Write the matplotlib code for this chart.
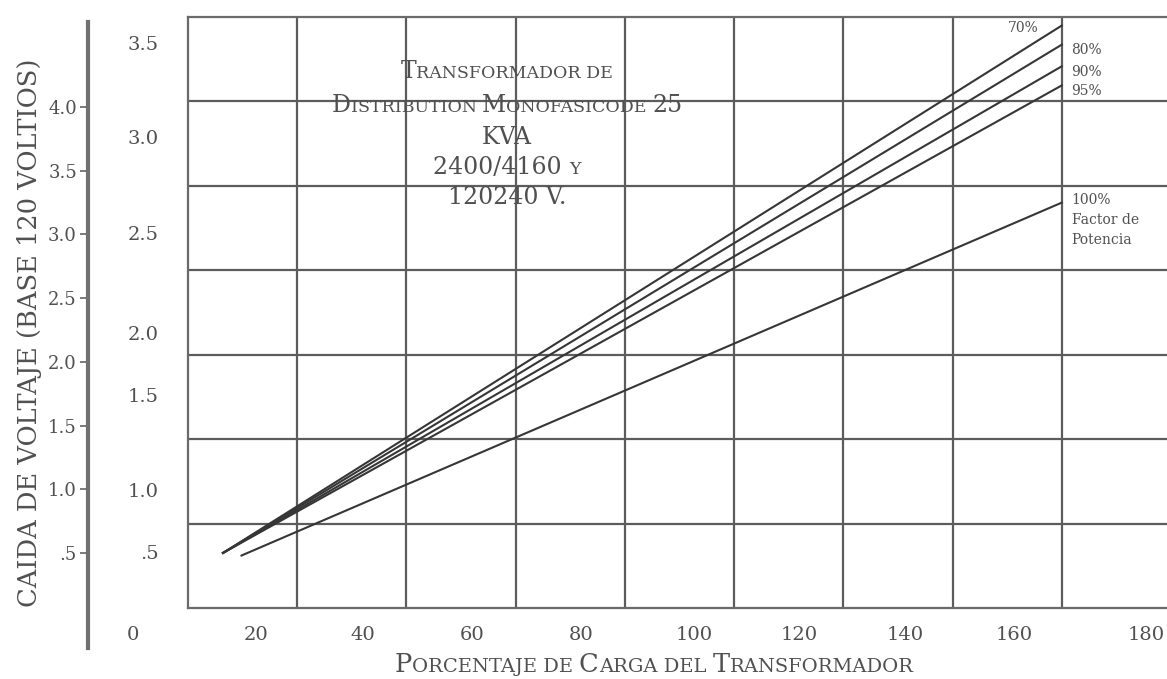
# %% Imports
import numpy as np
import matplotlib.pyplot as plt
from matplotlib.offsetbox import TextArea, HPacker, AnnotationBbox

plt.rcParams['font.family'] = 'DejaVu Serif'

# %% Data (voltage drop, base 120 V, vs. transformer load)
pf_labels = ['70%', '80%', '90%', '95%', '100%\nFactor de\nPotencia']
load_start = [16.4, 16.4, 16.4, 16.4, 19.8]
load_end = [170, 170, 170, 170, 170]
drop_start = [0.50, 0.50, 0.50, 0.50, 0.48]
drop_end = [4.64, 4.49, 4.32, 4.17, 3.25]

# outer (left) scale
outer_ticks = [0.5, 1.0, 1.5, 2.0, 2.5, 3.0, 3.5, 4.0]
outer_labels = ['.5', '1.0', '1.5', '2.0', '2.5', '3.0', '3.5', '4.0']

# inner scale printed next to the grid
inner_labels = ['.5', '1.0', '1.5', '2.0', '2.5', '3.0', '3.5']
inner_pos = [0.508, 0.995, 1.74, 2.227, 3.01, 3.765, 4.50]

# x axis labels
x_labels = ['20', '40', '60', '80', '100', '120', '140', '160', '180']
x_label_pos = [22.5, 42.1, 62.1, 81.9, 102.7, 121.9, 141.3, 161.3, 185.4]

title_lines = ['Transformador de', 'Distribution Monofasicode 25', 'KVA',
               '2400/4160 y', '120240 V.']

# %% Styles
text_c = '#505050'
grid_c = '#5c5c5c'
line_c = '#363636'
W, H = 1167, 679


def px_box(l, t, r, b):
    return [l / W, 1 - b / H, (r - l) / W, (b - t) / H]


def small_caps(s, big=16, small=12, color=text_c):
    # uppercase letters / digits big, lowercase letters drawn as small capitals
    runs = []
    for ch in s:
        is_small = ch.islower()
        if ch == ' ' and runs:
            is_small = runs[-1][0]
        if runs and runs[-1][0] == is_small:
            runs[-1][1] += ch
        else:
            runs.append([is_small, ch])
    boxes = [TextArea(t.upper(), textprops=dict(fontsize=small if sm else big,
                                                 color=color))
             for sm, t in runs]
    return HPacker(children=boxes, align='baseline', pad=0, sep=0)


# %% Figure
fig = plt.figure(figsize=(11.67, 6.79), dpi=100)
ax = fig.add_axes(px_box(188, 17, 1171, 608))
ax.set_xlim(10, 190)
ax.set_ylim(0.068, 4.707)

# grid
for gx in np.arange(30, 190, 20):
    ax.axvline(gx, color=grid_c, lw=1.6, zorder=1)
for gy in np.linspace(0.068, 4.707, 8)[1:-1]:
    ax.axhline(gy, color=grid_c, lw=1.6, zorder=1)

for side in ['top', 'left', 'bottom']:
    ax.spines[side].set_color('#6a6a6a')
    ax.spines[side].set_linewidth(1.6)
ax.spines['right'].set_visible(False)

# curves
for i, lab in enumerate(pf_labels):
    ax.plot([load_start[i], load_end[i]], [drop_start[i], drop_end[i]],
            color=line_c, lw=1.5, zorder=3)
    if i == 0:
        ax.annotate(lab, xy=(load_end[i], drop_end[i]), xytext=(-17, -2),
                    textcoords='offset points', ha='right', va='center',
                    fontsize=10, color=text_c)
    elif i == len(pf_labels) - 1:
        ax.annotate(lab, xy=(load_end[i], drop_end[i]), xytext=(7, 7),
                    textcoords='offset points', ha='left', va='top',
                    fontsize=10, color=text_c, linespacing=1.55)
    else:
        ax.annotate(lab, xy=(load_end[i], drop_end[i]), xytext=(7, -4),
                    textcoords='offset points', ha='left', va='center',
                    fontsize=10, color=text_c)

# ticks
ax.set_xticks(x_label_pos, x_labels)
ax.tick_params(axis='x', length=0, pad=13, labelsize=14, labelcolor=text_c)
ax.set_yticks(inner_pos, inner_labels)
ax.tick_params(axis='y', length=0, pad=21, labelsize=14, labelcolor=text_c)
ax.annotate('0', xy=(0, 0), xycoords=('data', 'axes fraction'),
            xytext=(0, -13), textcoords='offset points', ha='center',
            va='top', fontsize=14, color=text_c, annotation_clip=False)

# outer scale
ax2 = fig.add_axes(px_box(88, 22, 89, 648))
ax2.set_ylim(-0.246, 4.667)
ax2.patch.set_visible(False)
for side in ['top', 'right', 'bottom']:
    ax2.spines[side].set_visible(False)
ax2.spines['left'].set_color('#707070')
ax2.spines['left'].set_linewidth(3)
ax2.set_xticks([])
ax2.set_yticks(outer_ticks, outer_labels)
ax2.tick_params(axis='y', direction='out', length=6, width=1.3,
                color='#707070', pad=2, labelsize=13, labelcolor=text_c)

fig.text(30 / W, 1 - 333 / H, 'CAIDA DE VOLTAJE (BASE 120 VOLTIOS)',
         rotation=90, ha='center', va='center', fontsize=18.5, color=text_c)

# x label in small caps
fig.add_artist(AnnotationBbox(small_caps('Porcentaje de Carga del Transformador', 18.5, 14),
                              (654 / W, 1 - 665 / H), xycoords='figure fraction',
                              frameon=False, box_alignment=(0.5, 0.5)))

# title block
for line, ypx in zip(title_lines, [72, 105, 137, 167, 197]):
    ax.add_artist(AnnotationBbox(small_caps(line, 17, 12.5), (507 / W, 1 - ypx / H),
                                 xycoords='figure fraction', frameon=False,
                                 box_alignment=(0.5, 0.5), zorder=4))

fig.savefig('out.png', dpi=100)
